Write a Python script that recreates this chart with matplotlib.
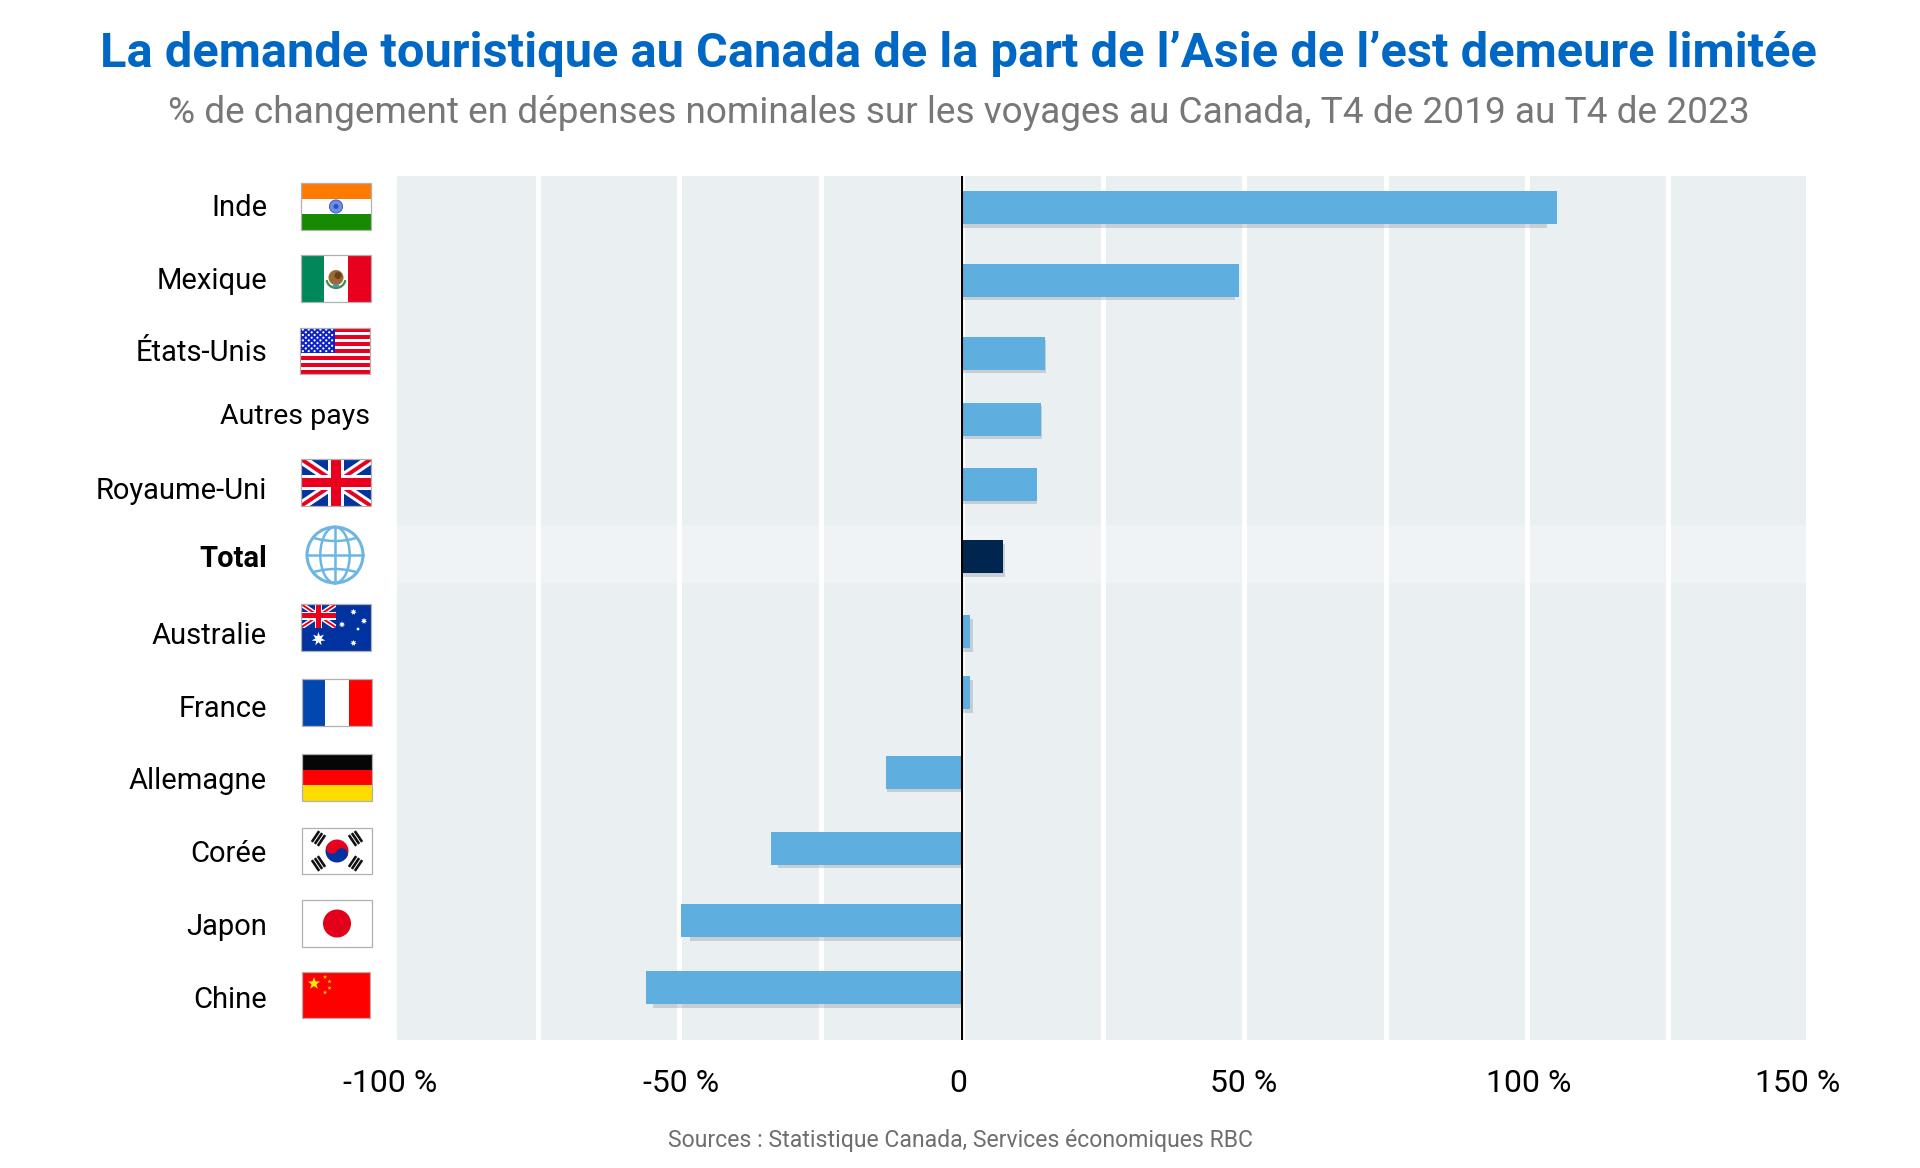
# Demande touristique au Canada, T4 2019 - T4 2023
import matplotlib
matplotlib.use('Agg')
import matplotlib.pyplot as plt
import numpy as np
from matplotlib.patches import Rectangle, Circle, Polygon, Ellipse, Arc, Wedge

plt.rcParams['font.family'] = ['Roboto', 'DejaVu Sans']

# Données
pays = ['Inde', 'Mexique', 'États-Unis', 'Autres pays', 'Royaume-Uni', 'Total',
        'Australie', 'France', 'Allemagne', 'Corée', 'Japon', 'Chine']
valeurs = [105.3, 49.1, 14.7, 14.0, 13.2, 7.3, 1.5, 1.5, -13.4, -33.8, -49.8, -56.0]
ombres = [103.5, 48.4, 14.9, 14.1, 13.2, 7.6, 1.9, 1.9, -13.2, -32.6, -48.2, -54.6]
graduations = [-100, -50, 0, 50, 100, 150]
etiquettes_x = ['-100 %', '-50 %', '0', '50 %', '100 %', '150 %']

# Mise en page (pixels de l'image)
W, H = 1920, 1168
rangees_y = [207.5, 280, 353, 419, 484, 556.5, 631.5, 692.5, 772, 848, 920.5, 987.5]
texte_y = [216, 289, 361, 424, 499, 567, 644, 717, 789, 862, 935, 1008]
decalage_x = [-1.2, 0.3, -0.7, -0.2, 0.3, -2.1]  # les étiquettes ne tombent pas pile sur la graduation

BLEU = '#5FAEE0'
MARINE = '#00264F'
FOND = '#EAEFF2'

fig = plt.figure(figsize=(W / 100, H / 100), dpi=100, facecolor='white')
ax = fig.add_axes([397 / W, 1 - 1040 / H, (1806 - 397) / W, (1040 - 176) / H])
ax.set_xlim(-100, 149.4)
ax.set_ylim(1040, 176)
ax.set_facecolor(FOND)
for s in ax.spines.values():
    s.set_visible(False)
ax.set_yticks([])
ax.set_xticks([])

ax.axhspan(525, 583, color='#EFF3F6', zorder=1, lw=0)
for g in np.arange(-75, 150, 25):
    ax.axvline(g, color='white', lw=3.6, zorder=2)

couleurs = [MARINE if p == 'Total' else BLEU for p in pays]
rangees = np.array(rangees_y)
ax.barh(rangees + 3.5, ombres, height=33, color='#4A5A68', alpha=0.22, lw=0, zorder=3)
ax.barh(rangees, valeurs, height=33, color=couleurs, edgecolor='none', lw=0, zorder=4)
ax.axvline(0, color='black', lw=1.5, zorder=5)

for g, d, e in zip(graduations, decalage_x, etiquettes_x):
    ax.text(g + d, 1092, e, ha='center', va='baseline', fontsize=23, color='black')

# Surcouche en pixels pour les textes et les drapeaux
ov = fig.add_axes([0, 0, 1, 1], zorder=10)
ov.set_xlim(0, W)
ov.set_ylim(H, 0)
ov.axis('off')
ov.patch.set_alpha(0)

ov.text(958, 54, 'La demande touristique au Canada de la part de l’Asie de l’est demeure limitée',
        ha='center', va='center', fontsize=35.15, color='#0068C4', fontweight='semibold')
ov.text(959, 113, '% de changement en dépenses nominales sur les voyages au Canada, T4 de 2019 au T4 de 2023',
        ha='center', va='center', fontsize=26.65, color='#777777')
ov.text(960, 1141, 'Sources : Statistique Canada, Services économiques RBC',
        ha='center', va='center', fontsize=16.55, color='#6E6E6E')

for p, y in zip(pays, texte_y):
    if p == 'Autres pays':
        ov.text(370, y, p, ha='right', va='baseline', fontsize=20.5, color='black')
    elif p == 'Total':
        ov.text(267, y, p, ha='right', va='baseline', fontsize=21, color='black', fontweight='bold')
    else:
        ov.text(267, y, p, ha='right', va='baseline', fontsize=21, color='black')


def rect(x, y, w, h, c, z=11):
    ov.add_patch(Rectangle((x, y), w, h, fc=c, ec='none', zorder=z))


def cadre(x, y, w, h):
    ov.add_patch(Rectangle((x, y), w, h, fc='none', ec='#B0B0B0', lw=0.9, zorder=15))


def etoile(cx, cy, r, c, n=5, rot=-90, creux=0.4, z=13):
    a = np.radians(rot + np.arange(2 * n) * 180 / n)
    rr = np.where(np.arange(2 * n) % 2 == 0, r, r * creux)
    ov.add_patch(Polygon(np.c_[cx + rr * np.cos(a), cy + rr * np.sin(a)], fc=c, ec='none', zorder=z))


def barres(x, y, w, h, c_list, vertical=False):
    n = len(c_list)
    for i, c in enumerate(c_list):
        if vertical:
            rect(x + i * w / n, y, w / n, h, c)
        else:
            rect(x, y + i * h / n, w, h / n, c)


def union(x, y, w, h):
    # clip sur le rectangle du drapeau
    clip = Rectangle((x, y), w, h, transform=ov.transData)
    rect(x, y, w, h, '#0033A0')
    for (a, b), (c, d) in [((x, y), (x + w, y + h)), ((x, y + h), (x + w, y))]:
        l1, = ov.plot([a, c], [b, d], color='white', lw=h * 0.15, zorder=12, solid_capstyle='butt')
        l2, = ov.plot([a, c], [b, d], color='#E8001E', lw=h * 0.06, zorder=12, solid_capstyle='butt')
        l1.set_clip_path(clip)
        l2.set_clip_path(clip)
    rect(x + w * 0.5 - h * 0.17, y, h * 0.34, h, 'white', z=12)
    rect(x, y + h * 0.33, w, h * 0.34, 'white', z=12)
    rect(x + w * 0.5 - h * 0.1, y, h * 0.2, h, '#E8001E', z=12)
    rect(x, y + h * 0.4, w, h * 0.2, '#E8001E', z=12)


# Inde
x, y, w, h = 301, 183, 70, 47
barres(x, y, w, h, ['#FF7A00', 'white', '#168A00'])
ov.add_patch(Circle((x + w / 2, y + h / 2), 6.5, fc='#6F8FE0', ec='#3F66D0', lw=0.8, zorder=12))
ov.add_patch(Circle((x + w / 2, y + h / 2), 2.5, fc='#2F50C0', ec='none', zorder=13))
cadre(x, y, w, h)

# Mexique
x, y, w, h = 301, 255, 70, 47
barres(x, y, w, h, ['#00875A', 'white', '#E8001E'], vertical=True)
cx, cy = x + w / 2, y + h / 2
ov.add_patch(Circle((cx, cy - 1), 7.5, fc='#9A6A32', ec='none', zorder=12))
ov.add_patch(Circle((cx + 2, cy - 3), 3.5, fc='#6B3E1E', ec='none', zorder=13))
ov.add_patch(Arc((cx, cy), 19, 19, theta1=10, theta2=170, color='#3D8C50', lw=1.6, zorder=14))
ov.add_patch(Ellipse((cx, cy + 7), 7, 3, fc='#4A90B0', ec='none', zorder=14))
cadre(x, y, w, h)

# États-Unis
x, y, w, h = 300, 328, 70, 46
for i in range(13):
    rect(x, y + i * h / 13, w, h / 13, '#E8001E' if i % 2 == 0 else 'white')
rect(x, y, w * 0.5, h * 7 / 13, '#0A22C8', z=12)
for r in range(9):
    n = 6 if r % 2 == 0 else 5
    for c in range(n):
        px = x + w * 0.5 * (c + (0.5 if r % 2 == 0 else 1.0)) / 6
        py = y + h * 7 / 13 * (r + 0.6) / 9.2
        ov.add_patch(Circle((px, py), 1.1, fc='white', ec='none', zorder=13))
cadre(x, y, w, h)

# Royaume-Uni
x, y, w, h = 301, 459, 70, 47
union(x, y, w, h)
cadre(x, y, w, h)

# Total : globe
cx, cy, r = 335, 555, 28
bleu_globe = '#6CB6E4'
disque = Circle((cx, cy), r, transform=ov.transData)
ov.add_patch(Circle((cx, cy), r, fc='none', ec=bleu_globe, lw=2.2, zorder=14))
ov.add_patch(Ellipse((cx, cy), r * 1.05, r * 2, fc='none', ec=bleu_globe, lw=1.8, zorder=13))
ov.plot([cx, cx], [cy - r, cy + r], color=bleu_globe, lw=1.8, zorder=13)
ov.plot([cx - r, cx + r], [cy, cy], color=bleu_globe, lw=1.8, zorder=13)
for cy2, t1, t2 in [(cy - r * 1.3, 0, 180), (cy + r * 1.3, 180, 360)]:
    arc = Arc((cx, cy2), r * 3, r * 1.6, theta1=t1, theta2=t2, color=bleu_globe, lw=1.8, zorder=13)
    ov.add_patch(arc)
    arc.set_clip_path(disque)

# Australie
x, y, w, h = 301, 604, 70, 47
rect(x, y, w, h, '#0033A0')
union(x, y, w * 0.5, h * 0.5)
etoile(x + 17.5, y + 35, 7, 'white', n=7, creux=0.45)
for ex, ey, er in [(52.5, 8, 3.2), (63, 17, 3.2), (41, 20.5, 3.2), (57, 25, 2), (52.5, 39, 3.2)]:
    etoile(x + ex, y + ey, er, 'white', n=7, creux=0.5)
cadre(x, y, w, h)

# France
x, y, w, h = 302, 679, 70, 47
barres(x, y, w, h, ['#0048B0', 'white', '#FF0000'], vertical=True)
cadre(x, y, w, h)

# Allemagne
x, y, w, h = 302, 754, 70, 47
barres(x, y, w, h, ['#060606', '#FF0000', '#FFDC00'])
cadre(x, y, w, h)

# Corée
x, y, w, h = 302, 828, 70, 46
rect(x, y, w, h, 'white')
cx, cy = x + w / 2, y + h / 2
ov.add_patch(Wedge((cx, cy), 11.5, 180 + 30, 30, fc='#E8001E', ec='none', zorder=12))
ov.add_patch(Wedge((cx, cy), 11.5, 30, 210, fc='#0033A0', ec='none', zorder=12))
ov.add_patch(Circle((cx - 5, cy - 2.9), 5.75, fc='#E8001E', ec='none', zorder=13))
ov.add_patch(Circle((cx + 5, cy + 2.9), 5.75, fc='#0033A0', ec='none', zorder=13))
for sx, sy in [(-1, -1), (1, -1), (-1, 1), (1, 1)]:
    ang = np.arctan2(sy * 12.5, sx * 18.5)
    d = np.array([np.cos(ang), np.sin(ang)])
    n = np.array([-d[1], d[0]])
    for k in (-1, 0, 1):
        c0 = np.array([cx + sx * 18.5, cy + sy * 12.5]) + d * k * 3.6
        pts = [c0 + n * 6.5 + d * 1.3, c0 + n * 6.5 - d * 1.3, c0 - n * 6.5 - d * 1.3, c0 - n * 6.5 + d * 1.3]
        ov.add_patch(Polygon(pts, fc='#111111', ec='none', zorder=12))
cadre(x, y, w, h)

# Japon
x, y, w, h = 302, 900, 70, 47
rect(x, y, w, h, 'white')
ov.add_patch(Circle((x + w / 2, y + h / 2), 14, fc='#E2001A', ec='none', zorder=12))
cadre(x, y, w, h)

# Chine
x, y, w, h = 302, 972, 68, 46
rect(x, y, w, h, '#FF0000')
etoile(x + 12, y + 11.5, 6.5, '#FFF000')
for ex, ey in [(23, 5), (27.5, 9.5), (27.5, 16), (23, 20.5)]:
    etoile(x + ex, y + ey, 2.2, '#FFD000')
cadre(x, y, w, h)

fig.savefig('out.png', dpi=100)
